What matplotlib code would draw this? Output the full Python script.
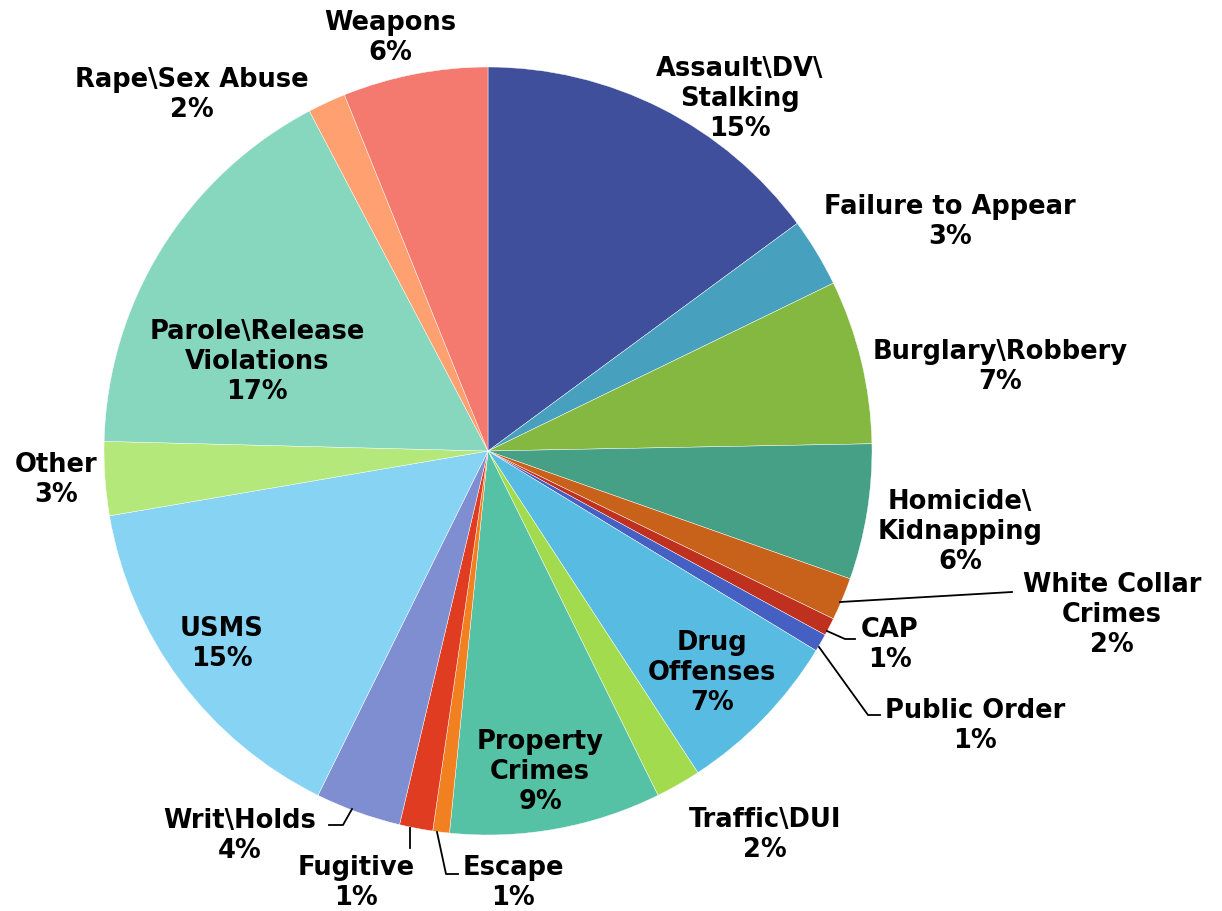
import numpy as np
from matplotlib import pyplot as plt

# offense categories, clockwise from 12 o'clock
categories = ['Assault\\DV\\\nStalking', 'Failure to Appear', 'Burglary\\Robbery',
              'Homicide\\\nKidnapping', 'White Collar\nCrimes', 'CAP', 'Public Order',
              'Drug\nOffenses', 'Traffic\\DUI', 'Property\nCrimes', 'Escape', 'Fugitive',
              'Writ\\Holds', 'USMS', 'Other', 'Parole\\Release\nViolations',
              'Rape\\Sex Abuse', 'Weapons']
shares = [14.9, 2.9, 6.9, 5.7, 1.8, 0.75, 0.75, 7.1, 1.9, 8.9, 0.7, 1.4,
          3.6, 15.0, 3.1, 16.9, 1.6, 6.1]
colors = ['#3F4F9B', '#47A0BE', '#84B840', '#45A085', '#C8611A', '#C0301E',
          '#4560C2', '#58BCE2', '#A2DC4E', '#55C2A5', '#F08020', '#E03C22',
          '#7F8ED0', '#87D3F3', '#B4E87A', '#87D6BE', '#FFA070', '#F47A70']

# label centres in pixel space (x from left, y from top)
label_pos = [(740, 99), (950, 222), (1000, 367), (960, 532), (1112, 615),
             (890, 645), (975, 726), (712, 673), (765, 835), (540, 772),
             (513, 883), (356, 883), (240, 836), (222, 644), (56, 480),
             (257, 362), (192, 95), (390, 38)]
# leader lines for the thin slices, pixel space
leaders = {
    4: [(840, 603), (1012, 593)],
    5: [(827, 632), (845, 640), (855, 640)],
    6: [(819, 648), (868, 716), (880, 716)],
    10: [(437, 833), (446, 875), (458, 875)],
    11: [(410, 829), (410, 849)],
    12: [(352, 810), (343, 826), (329, 826)],
}

W, H = 1222, 912
cx, cy, R = 488, 452, 384


def to_data(px, py):
    return (px - cx) / R, (cy - py) / R


fig = plt.figure(figsize=(W / 100, H / 100), dpi=100)
ax = fig.add_axes([0, 0, 1, 1])
ax.pie(shares, colors=colors, startangle=90, counterclock=False, radius=1,
       wedgeprops=dict(edgecolor='white', linewidth=0.3))
ax.set_xlim(-cx / R, (W - cx) / R)
ax.set_ylim(-(H - cy) / R, cy / R)
ax.set_aspect('auto')
ax.axis('off')

for i, (name, v) in enumerate(zip(categories, shares)):
    x, y = to_data(*label_pos[i])
    ax.text(x, y, f"{name}\n{round(v)}%", ha='center', va='center',
            fontsize=18.5, fontweight='bold', linespacing=1.2, color='black')

for pts in leaders.values():
    xy = np.array([to_data(*p) for p in pts])
    ax.plot(xy[:, 0], xy[:, 1], color='black', lw=1.3)

plt.savefig('out.png', dpi=100)
